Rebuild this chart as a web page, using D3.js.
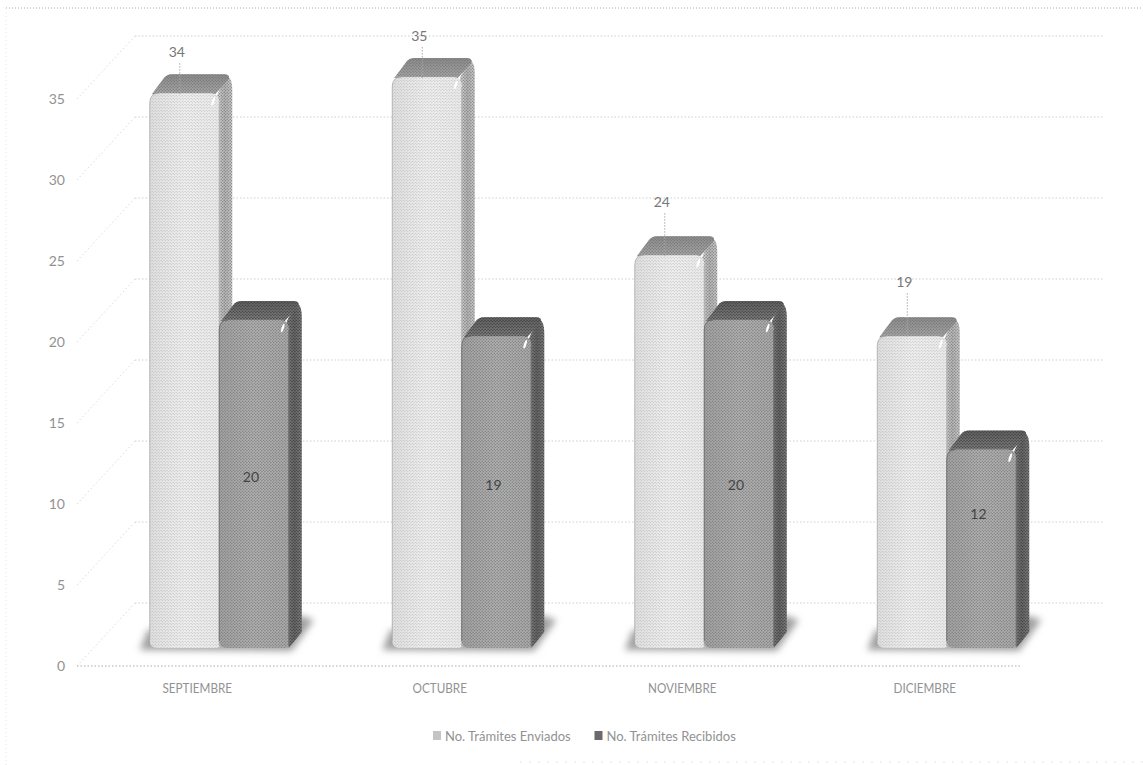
<!DOCTYPE html>
<html>
<head>
<meta charset="utf-8">
<script src="https://cdn.jsdelivr.net/npm/d3@7"></script>
<style>
body { margin: 0; background: #fff; }
svg { display: block; }
text { font-family: Lato, "Open Sans", sans-serif; fill: #929292; }
</style>
</head>
<body>
<div id="chart"></div>
<script>
// Chart data
const categories = ['SEPTIEMBRE', 'OCTUBRE', 'NOVIEMBRE', 'DICIEMBRE'];
const enviados = [34, 35, 24, 19];
const recibidos = [20, 19, 20, 12];
const seriesNames = ['No. Trámites Enviados', 'No. Trámites Recibidos'];
const yTicks = [0, 5, 10, 15, 20, 25, 30, 35];

let svgWidth = 1143;
let svgHeight = 765;

// 3D offsets: how far the wall and the axis sit from the front of the bars
let depthX = 13, depthY = 19;
let wallX = 37, wallY = 45;   // back wall relative to bar front
let axisY = 18;               // axis plane relative to bar front
let lift = 4;                 // the bevel makes the bars stand a bit over their value

let svg = d3.select('#chart').append('svg')
    .attr('width', svgWidth)
    .attr('height', svgHeight);

let defs = svg.append('defs');

// halftone dots of the scanned page, laid over a smooth gradient
function halftone(id, dot, r) {
    let p = defs.append('pattern')
        .attr('id', id)
        .attr('width', 3).attr('height', 3)
        .attr('patternUnits', 'userSpaceOnUse');
    p.append('circle').attr('cx', 0.75).attr('cy', 0.75).attr('r', r).attr('fill', dot);
    p.append('circle').attr('cx', 2.25).attr('cy', 2.25).attr('r', r).attr('fill', dot);
}
halftone('dots-light', '#a8a8a8', 0.62);
halftone('dots-mid', '#6e6e6e', 0.75);
halftone('dots-dark', '#3c3c3c', 0.8);

function gradient(id, horizontal, stops) {
    let g = defs.append('linearGradient')
        .attr('id', id)
        .attr('x1', 0).attr('y1', 0)
        .attr('x2', horizontal ? 1 : 0).attr('y2', horizontal ? 0 : 1);
    stops.forEach((s, i) => g.append('stop')
        .attr('offset', i / (stops.length - 1))
        .attr('stop-color', s));
}
gradient('env-front', true, ['#e4e4e4', '#f4f4f4', '#f0f0f0']);
gradient('env-side', true, ['#e4e4e4', '#c0c0c0', '#d8d8d8']);
gradient('env-top', false, ['#8f8f8f', '#b2b2b2']);
gradient('rec-front', true, ['#adadad', '#bcbcbc', '#b4b4b4']);
gradient('rec-side', true, ['#909090', '#6d6d6d', '#888']);
gradient('rec-top', false, ['#666', '#8c8c8c']);

defs.append('filter').attr('id', 'soft')
    .attr('x', '-20%').attr('y', '-60%').attr('width', '140%').attr('height', '220%')
    .append('feGaussianBlur').attr('stdDeviation', 3.5);

// Scales
let x0 = d3.scaleBand()
    .domain(categories)
    .range([98, 1068])
    .paddingInner(0.427)
    .paddingOuter(0.2135);

let x1 = d3.scaleBand()
    .domain(seriesNames)
    .range([0, x0.bandwidth()]);

let y = d3.scaleLinear()
    .domain([0, 35])
    .range([648, 81]);

// Edges of the scanned frame
svg.append('line')
    .attr('x1', 6).attr('x2', svgWidth)
    .attr('y1', 8).attr('y2', 8)
    .attr('stroke', '#aaa')
    .attr('stroke-dasharray', '1 2');
svg.append('line')
    .attr('x1', 6).attr('x2', 6)
    .attr('y1', 8).attr('y2', svgHeight)
    .attr('stroke', '#e6e6e6')
    .attr('stroke-dasharray', '1 3');
svg.append('line')
    .attr('x1', 520).attr('x2', svgWidth)
    .attr('y1', 762).attr('y2', 762)
    .attr('stroke', '#e4e4e4')
    .attr('stroke-dasharray', '2 7');

// Gridlines on the back wall
let grid = svg.append('g').attr('transform', `translate(0,${-wallY})`);
grid.selectAll('line')
    .data(yTicks)
    .enter()
    .append('line')
    .attr('x1', x0.range()[0] + wallX)
    .attr('x2', 1103)
    .attr('y1', d => y(d))
    .attr('y2', d => y(d))
    .attr('stroke', '#cfcfcf')
    .attr('stroke-dasharray', '1.5 2');

// Diagonals on the side wall
svg.append('g').selectAll('line')
    .data(yTicks)
    .enter()
    .append('line')
    .attr('x1', 77)
    .attr('x2', x0.range()[0] + wallX)
    .attr('y1', d => y(d) + axisY)
    .attr('y2', d => y(d) - wallY)
    .attr('stroke', '#dcdcdc')
    .attr('stroke-dasharray', '1.5 2.5');

// Floor line
svg.append('line')
    .attr('x1', 77).attr('x2', 1020)
    .attr('y1', y(0) + axisY).attr('y2', y(0) + axisY)
    .attr('stroke', '#aaa')
    .attr('stroke-dasharray', '1.5 2');

// Y axis, labels only
let yAxis = svg.append('g')
    .attr('transform', `translate(65,${axisY})`)
    .call(d3.axisLeft(y).tickValues(yTicks).tickSize(0).tickPadding(0));
yAxis.select('.domain').remove();
yAxis.selectAll('text').style('font-size', '14px').attr('fill', null);

// X axis, labels only. The original font is narrower, so squeeze the labels
let xAxis = svg.append('g')
    .attr('transform', `translate(-22,${y(0) + axisY})`)
    .call(d3.axisBottom(x0).tickSize(0).tickPadding(18));
xAxis.select('.domain').remove();
xAxis.selectAll('text')
    .style('font-size', '13px')
    .attr('fill', null)
    .attr('lengthAdjust', 'spacingAndGlyphs')
    .attr('textLength', function() { return this.getComputedTextLength() * 0.9; });

// Bars: one group per category, one rounded 3D block per series
let barData = categories.map((c, i) => ({
    cat: c,
    values: [
        { key: seriesNames[0], cls: 'env', value: enviados[i] },
        { key: seriesNames[1], cls: 'rec', value: recibidos[i] }
    ]
}));

let catGroups = svg.selectAll('.cat')
    .data(barData)
    .enter()
    .append('g')
    .attr('class', 'cat')
    .attr('transform', d => `translate(${x0(d.cat)},0)`);

let w = x1.bandwidth();

// Floor shadow under each pair of bars, leaning to the back on the right
catGroups.append('path')
    .attr('fill', '#a0a0a0')
    .attr('filter', 'url(#soft)')
    .attr('d', `M-10,${y(0) + 2} L-2,${y(0) - 18} L${2 * w + depthX},${y(0) - 32}
                L${2 * w + depthX + 12},${y(0) - 28} L${2 * w + 3},${y(0) + 3} Z`);

let blocks = catGroups.selectAll('.block')
    .data(d => d.values)
    .enter()
    .append('g')
    .attr('class', 'block')
    .attr('transform', d => `translate(${x1(d.key)},0)`);

// draws a face twice: smooth gradient, then the halftone dots
function face(name, pathFn, dotsFor) {
    blocks.append('path')
        .attr('fill', d => `url(#${d.cls}-${name})`)
        .attr('d', pathFn);
    blocks.append('path')
        .attr('fill', d => `url(#${dotsFor(d)})`)
        .attr('d', pathFn);
}

// side face
face('side', d => {
    let t = y(d.value) - lift;
    return `M${w - 2},${t + 2} L${w + depthX - 7},${t - depthY + 2} Q${w + depthX},${t - depthY + 2} ${w + depthX},${t - depthY + 16}
            L${w + depthX},${y(0) - depthY + 3} L${w},${y(0)} Z`;
}, d => d.cls == 'env' ? 'dots-mid' : 'dots-dark');

// top face
face('top', d => {
    let t = y(d.value) - lift;
    return `M2,${t + 1} L${depthX + 1},${t - depthY + 4} Q${depthX + 4},${t - depthY} ${depthX + 9},${t - depthY}
            L${w + depthX - 8},${t - depthY} Q${w + depthX - 3},${t - depthY} ${w + depthX - 3},${t - depthY + 4}
            L${w - 4},${t + 1} Z`;
}, d => d.cls == 'env' ? 'dots-mid' : 'dots-dark');

// front face
face('front', d => {
    let t = y(d.value) - lift;
    return `M0,${y(0) - 7} L0,${t + 10} Q0,${t} 9,${t} L${w - 8},${t} Q${w},${t} ${w},${t + 10}
            L${w},${y(0) - 2} Q${w},${y(0)} ${w - 6},${y(0)} L8,${y(0)} Q0,${y(0)} 0,${y(0) - 7} Z`;
}, d => d.cls == 'env' ? 'dots-light' : 'dots-mid');

// darker edge round the front face
blocks.append('path')
    .attr('fill', 'none')
    .attr('stroke', d => d.cls == 'env' ? '#a8a8a8' : '#666')
    .attr('stroke-width', 0.8)
    .attr('d', d => {
        let t = y(d.value) - lift;
        return `M0,${y(0) - 7} L0,${t + 10} Q0,${t} 9,${t} M${w},${t + 10} L${w},${y(0) - 2}`;
    });

// small highlight at the top right corner
blocks.append('ellipse')
    .attr('cx', w - 6)
    .attr('cy', d => y(d.value) - lift + 8)
    .attr('rx', 1.2).attr('ry', 4.5)
    .attr('transform', d => `rotate(18,${w - 6},${y(d.value) - lift + 8})`)
    .attr('fill', '#fff');

// Data labels. Enviados above the bar with a leader line, Recibidos inside
let labelGap = 40;
let outsideNudge = [0, 0, -12, -13];
catGroups.append('line')
    .attr('x1', x1(seriesNames[0]) + 30)
    .attr('x2', x1(seriesNames[0]) + 30)
    .attr('y1', (d, i) => y(enviados[i]) - labelGap + outsideNudge[i] + 6)
    .attr('y2', (d, i) => y(enviados[i]) - lift + 1)
    .attr('stroke', '#aaa')
    .attr('stroke-dasharray', '1.5 1.5');

catGroups.append('text')
    .attr('x', x1(seriesNames[0]) + 27)
    .attr('y', (d, i) => y(enviados[i]) - labelGap + outsideNudge[i])
    .attr('text-anchor', 'middle')
    .style('font-size', '14px')
    .style('fill', '#777')
    .text((d, i) => enviados[i]);

// inside labels were placed by hand in the source chart, small nudges for that
let insideNudge = [-9, -9, -1, -37];
catGroups.append('text')
    .attr('x', x1(seriesNames[1]) + w / 2 - 3)
    .attr('y', (d, i) => y(recibidos[i] / 2) + insideNudge[i])
    .attr('dy', '0.35em')
    .attr('text-anchor', 'middle')
    .style('font-size', '14px')
    .style('fill', '#444')
    .text((d, i) => recibidos[i]);

// Legend
let legend = svg.append('g').attr('transform', 'translate(433,741)');
let legendItems = legend.selectAll('g')
    .data(seriesNames)
    .enter()
    .append('g')
    .attr('transform', (d, i) => `translate(${i * 161.5},0)`);
legendItems.append('rect')
    .attr('x', 0).attr('y', -10)
    .attr('width', 8).attr('height', 9)
    .attr('fill', (d, i) => i == 0 ? '#c4c4c4' : '#6a6a6a');
legendItems.append('text')
    .attr('x', 12)
    .attr('y', 0)
    .style('font-size', '13px')
    .text(d => d);
</script>
</body>
</html>
